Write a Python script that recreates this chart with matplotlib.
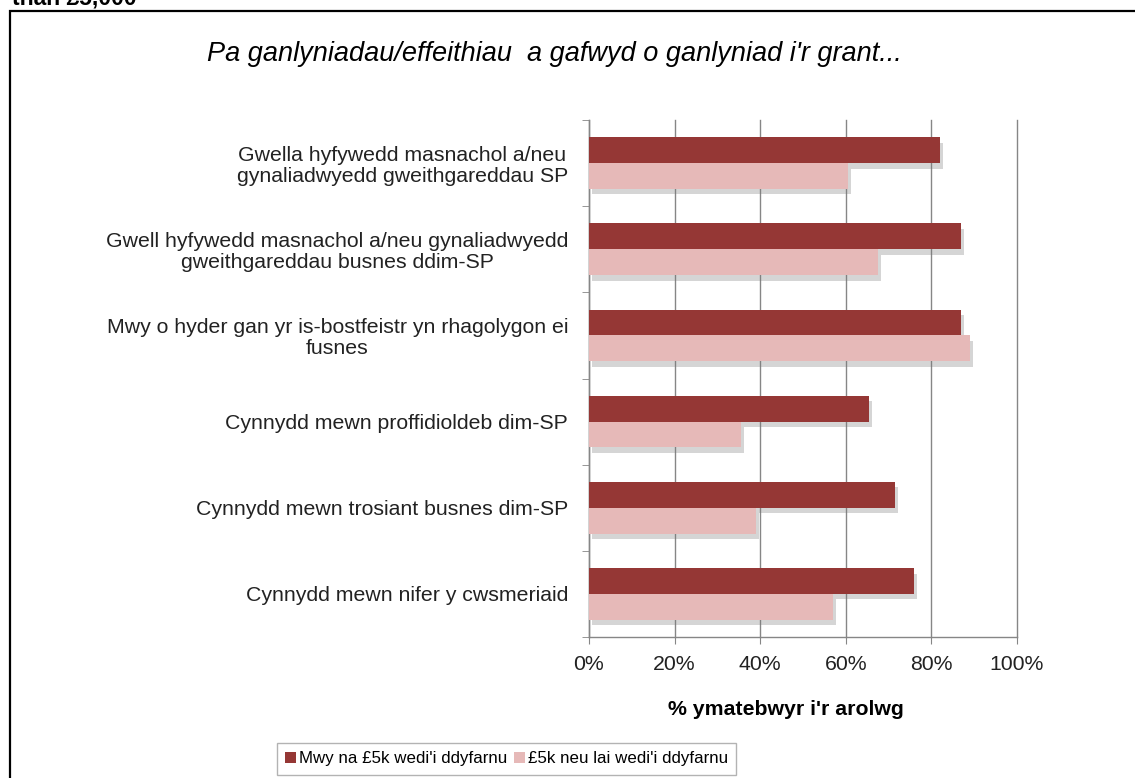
import matplotlib
matplotlib.use("Agg")
import matplotlib.pyplot as plt
import matplotlib.patheffects as pe
from matplotlib.patches import Rectangle, Patch
import numpy as np

categories = [
    "Gwella hyfywedd masnachol a/neu\ngynaliadwyedd gweithgareddau SP",
    "Gwell hyfywedd masnachol a/neu gynaliadwyedd\ngweithgareddau busnes ddim-SP",
    "Mwy o hyder gan yr is-bostfeistr yn rhagolygon ei\nfusnes",
    "Cynnydd mewn proffidioldeb dim-SP",
    "Cynnydd mewn trosiant busnes dim-SP",
    "Cynnydd mewn nifer y cwsmeriaid",
]
more_than_5k = [82, 87, 87, 65.5, 71.5, 76]
five_k_or_less = [60.5, 67.5, 89, 35.5, 39, 57]
series_names = ["Mwy na £5k wedi'i ddyfarnu", "£5k neu lai wedi'i ddyfarnu"]
x_ticks = [0, 20, 40, 60, 80, 100]
x_tick_labels = ["0%", "20%", "40%", "60%", "80%", "100%"]

dark = "#953735"
light = "#E6B9B8"
grid_c = "#868686"

plt.rcParams['font.family'] = ['Liberation Sans', 'DejaVu Sans']

W, H = 1135, 778
fig = plt.figure(figsize=(W / 100, H / 100), dpi=100)

def fx(px):
    return px / W

def fy(py):
    return 1 - py / H

ax = fig.add_axes([fx(589), fy(637), fx(1017) - fx(589), fy(120) - fy(637)])

y = np.arange(len(categories))
h = 0.3
shadow = [pe.SimplePatchShadow(offset=(2, -4), shadow_rgbFace="#777777", alpha=0.3), pe.Normal()]
b1 = ax.barh(y - h / 2, more_than_5k, height=h, color=dark, zorder=3)
b2 = ax.barh(y + h / 2, five_k_or_less, height=h, color=light, zorder=3)
for b in list(b1) + list(b2):
    b.set_path_effects(shadow)

ax.set_xlim(0, 100)
ax.set_ylim(len(categories) - 0.5, -0.5)
ax.set_xticks(x_ticks)
ax.set_xticklabels(x_tick_labels, fontsize=15.3, color="#222222")
ax.set_yticks(y)
ax.set_yticklabels(categories, fontsize=15.3, color="#222222", linespacing=1.12,
                   multialignment='center')
ax.tick_params(axis='y', length=0, pad=15)
ax.set_yticks(np.arange(-0.5, len(categories)), minor=True)
ax.tick_params(axis='y', which='minor', length=5, color=grid_c, direction='out')
ax.tick_params(axis='x', length=5, color=grid_c, pad=8)

ax.grid(axis='x', color=grid_c, linewidth=1.0, zorder=0)
ax.set_axisbelow(True)
for gl in ax.get_xgridlines():
    gl.set_clip_on(False)
for s in ['top', 'right']:
    ax.spines[s].set_visible(False)
for s in ['left', 'bottom']:
    ax.spines[s].set_color(grid_c)
    ax.spines[s].set_linewidth(1.0)

ax.set_xlabel("% ymatebwyr i'r arolwg", fontsize=15.3, fontweight='bold', labelpad=19)
ax.xaxis.label.set_x((786 - 589) / (1017 - 589))

fig.text(fx(554), fy(61), "Pa ganlyniadau/effeithiau  a gafwyd o ganlyniad i'r grant...",
         fontsize=19.5, style='italic', ha='center', va='baseline')

fig.text(fx(12), fy(5), "than £5,000", fontsize=16.5, fontweight='bold', ha='left', va='baseline')

# outer frame (cropped at right and bottom)
fig.patches.append(Rectangle((fx(10), fy(800)), fx(1200) - fx(10), fy(11) - fy(800),
                             transform=fig.transFigure, fill=False, edgecolor='black',
                             linewidth=1.6, clip_on=False))

# legend
leg = fig.legend([Patch(facecolor=dark), Patch(facecolor=light)], series_names,
                 loc='upper left', bbox_to_anchor=(fx(277), fy(743)), ncol=2,
                 fontsize=12.2, frameon=True, fancybox=False, edgecolor='#A0A0A0',
                 handlelength=0.65, handleheight=0.65, handletextpad=0.15,
                 columnspacing=0.4, borderpad=0.5, borderaxespad=0)
leg.get_frame().set_linewidth(1.0)

fig.savefig("out.png", dpi=100)
